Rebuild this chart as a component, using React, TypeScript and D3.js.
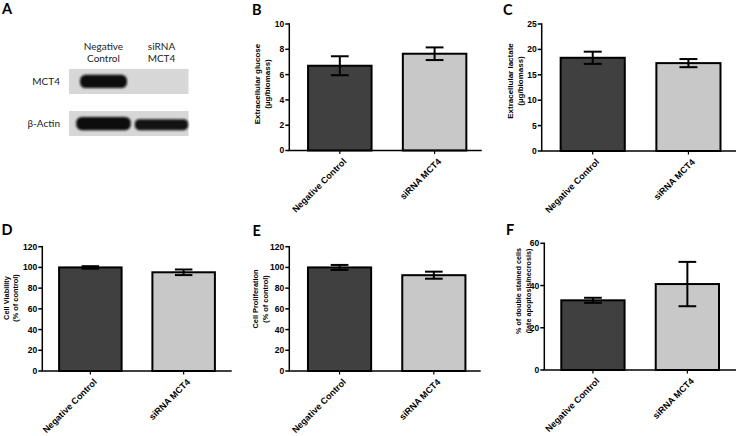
import React from "react";
import * as d3 from "d3";

// ---------- data ----------
const categories = ["Negative Control", "siRNA MCT4"];

const glucoseMean = [6.7, 7.65];
const glucoseErr = [0.75, 0.5];
const glucoseTicks = [0, 2, 4, 6, 8, 10];

const lactateMean = [18.35, 17.3];
const lactateErr = [1.2, 0.8];
const lactateTicks = [0, 5, 10, 15, 20, 25];

const viabilityMean = [100, 95.3];
const viabilityErr = [1.2, 2.7];
const viabilityTicks = [0, 20, 40, 60, 80, 100, 120];

const proliferationMean = [100, 92.5];
const proliferationErr = [2.4, 3.4];
const proliferationTicks = [0, 20, 40, 60, 80, 100, 120];

const apoptosisMean = [33, 40.7];
const apoptosisErr = [1.2, 10.5];
const apoptosisTicks = [0, 20, 40, 60];

// western blot (panel A)
const blotLaneLabels = [["Negative", "Control"], ["siRNA", "MCT4"]];
const blotRows = ["MCT4", "β-Actin"];
const mct4Intensity = [1, 0];
const actinIntensity = [1, 0.97];
const mct4Width = [0.81, 0];
const actinWidth = [0.94, 0.92];
const mct4Thickness = [0.53, 0];
const actinThickness = [0.53, 0.44];

const barFills = ["#404040", "#c8c8c8"];
const TICK_FONT = "'Liberation Sans', Arial, sans-serif";
const LETTER_FONT = "Lato, 'Open Sans', sans-serif";

type PanelCfg = {
  letter: string; lx: number; ly: number;
  x0: number; x1: number; yTop: number; yBot: number; align: number;
  mean: number[]; err: number[]; ticks: number[];
  title: string[]; tx: number[]; ty: number; tfs: number;
};

const panels: PanelCfg[] = [
  { letter: "B", lx: 252, ly: 15, x0: 289.3, x1: 481.7, yTop: 24, yBot: 150.5, align: 0.55,
    mean: glucoseMean, err: glucoseErr, ticks: glucoseTicks,
    title: ["Extracellular glucose", "(µg/biomass)"], tx: [257, 267], ty: 84, tfs: 8 },
  { letter: "C", lx: 503, ly: 15, x0: 541.7, x1: 736, yTop: 24, yBot: 151, align: 0.55,
    mean: lactateMean, err: lactateErr, ticks: lactateTicks,
    title: ["Extracellular lactate", "(µg/biomass)"], tx: [510, 520], ty: 81, tfs: 8 },
  { letter: "D", lx: 1.5, ly: 234.5, x0: 42.3, x1: 231.7, yTop: 246.7, yBot: 371, align: 0.5,
    mean: viabilityMean, err: viabilityErr, ticks: viabilityTicks,
    title: ["Cell Viability", "(% of control)"], tx: [6, 15.5], ty: 298, tfs: 7.4 },
  { letter: "E", lx: 252.5, ly: 235.5, x0: 289.3, x1: 480.7, yTop: 246.7, yBot: 371, align: 0.55,
    mean: proliferationMean, err: proliferationErr, ticks: proliferationTicks,
    title: ["Cell Proliferation", "(% of control)"], tx: [255.5, 265], ty: 299, tfs: 7.4 },
  { letter: "F", lx: 506, ly: 234.5, x0: 544.3, x1: 736, yTop: 243.3, yBot: 370, align: 0.5,
    mean: apoptosisMean, err: apoptosisErr, ticks: apoptosisTicks,
    title: ["% of double stained cells", "(late apoptosis/necrosis)"], tx: [518.5, 528.5], ty: 291, tfs: 7.2 },
];

function BarPanel({ cfg }: { cfg: PanelCfg }) {
  const x = d3.scaleBand<string>().domain(categories).range([cfg.x0, cfg.x1])
    .paddingInner(0.33).paddingOuter(0.18).align(cfg.align);
  const max = cfg.ticks[cfg.ticks.length - 1];
  const y = d3.scaleLinear().domain([0, max]).range([cfg.yBot, cfg.yTop]);
  const bw = x.bandwidth();
  const capW = bw * 0.28;
  return (
    <g>
      <text x={cfg.lx} y={cfg.ly} fontFamily={LETTER_FONT} fontWeight={700} fontSize={14.5}>{cfg.letter}</text>
      {cfg.title.map((t, i) => (
        <text key={i} transform={`translate(${cfg.tx[i]},${cfg.ty}) rotate(-90)`} textAnchor="middle"
          dominantBaseline="central" fontFamily={TICK_FONT} fontWeight={700} fontSize={cfg.tfs}>{t}</text>
      ))}
      {/* bars */}
      {categories.map((c, i) => (
        <rect key={c} x={x(c)} y={y(cfg.mean[i])} width={bw} height={y(0) - y(cfg.mean[i])}
          fill={barFills[i]} stroke="#000" strokeWidth={2} />
      ))}
      {/* error bars */}
      {categories.map((c, i) => {
        const cx = (x(c) as number) + bw / 2;
        const hi = y(cfg.mean[i] + cfg.err[i]);
        const lo = y(cfg.mean[i] - cfg.err[i]);
        return (
          <g key={c} stroke="#000" strokeWidth={2}>
            <line x1={cx} x2={cx} y1={hi} y2={lo} />
            <line x1={cx - capW / 2} x2={cx + capW / 2} y1={hi} y2={hi} />
            <line x1={cx - capW / 2} x2={cx + capW / 2} y1={lo} y2={lo} />
          </g>
        );
      })}
      {/* y axis */}
      <line x1={cfg.x0} x2={cfg.x0} y1={y(max) - 0.75} y2={y(0)} stroke="#000" strokeWidth={1.5} />
      {cfg.ticks.map((t) => (
        <g key={t}>
          <line x1={cfg.x0 - 4} x2={cfg.x0} y1={y(t)} y2={y(t)} stroke="#000" strokeWidth={1.5} />
          <text x={cfg.x0 - 5} y={y(t)} dy="0.35em" textAnchor="end" fontFamily={TICK_FONT}
            fontWeight={700} fontSize={8.5}>{t}</text>
        </g>
      ))}
      {/* x axis */}
      <line x1={cfg.x0 - 0.75} x2={cfg.x1} y1={y(0)} y2={y(0)} stroke="#000" strokeWidth={1.5} />
      {categories.map((c) => {
        const cx = (x(c) as number) + bw / 2;
        return (
          <g key={c}>
            <line x1={cx} x2={cx} y1={y(0)} y2={y(0) + 3.5} stroke="#000" strokeWidth={1.2} />
            <text transform={`translate(${cx + 2.5},${y(0) + 7}) rotate(-45)`} dy="0.72em" textAnchor="end"
              fontFamily={TICK_FONT} fontWeight={700} fontSize={9}>{c}</text>
          </g>
        );
      })}
    </g>
  );
}

function BlotPanel() {
  const lanes = d3.scaleBand<string>().domain(categories).range([74.5, 190.5]);
  const rowY = d3.scaleBand<string>().domain(blotRows).range([69, 136]).paddingInner(0.405);
  const boxX0 = 69, boxX1 = 188.5;
  const rows = [
    { name: blotRows[0], intensity: mct4Intensity, widths: mct4Width, thick: mct4Thickness },
    { name: blotRows[1], intensity: actinIntensity, widths: actinWidth, thick: actinThickness },
  ];
  const lw = lanes.bandwidth();
  return (
    <g>
      <defs>
        <filter id="blur" x="-20%" y="-60%" width="140%" height="220%">
          <feGaussianBlur stdDeviation="0.9" />
        </filter>
      </defs>
      <text x={2} y={13.5} fontFamily={LETTER_FONT} fontWeight={700} fontSize={14.5}>A</text>
      {blotLaneLabels.map((lines, i) => (
        <text key={i} x={(lanes(categories[i]) as number) + lw / 2} y={49.5} textAnchor="middle"
          fontFamily={LETTER_FONT} fontSize={10} fill="#222">
          {lines.map((l, j) => (
            <tspan key={j} x={(lanes(categories[i]) as number) + lw / 2} dy={j === 0 ? 0 : 12.8}>{l}</tspan>
          ))}
        </text>
      ))}
      {rows.map((r) => {
        const ry = rowY(r.name) as number;
        const rh = rowY.bandwidth();
        return (
          <g key={r.name}>
            <rect x={boxX0} y={ry} width={boxX1 - boxX0} height={rh} fill="#d7d7d7" />
            <text x={60} y={ry + rh / 2} dy="0.35em" textAnchor="end" fontFamily={LETTER_FONT}
              fontSize={10} fill="#222">{r.name}</text>
            {categories.map((c, i) => {
              if (r.intensity[i] <= 0) return null;
              const w = lw * r.widths[i];
              const cx = (lanes(c) as number) + lw / 2;
              const bh = rh * r.thick[i];
              const cy = ry + rh / 2 + (rh * 0.53 - bh) / 2;
              return (
                <rect key={c} x={cx - w / 2} y={cy - bh / 2} width={w} height={bh}
                  rx={bh / 2.4} fill="#0a0a0a" opacity={r.intensity[i]} filter="url(#blur)" />
              );
            })}
          </g>
        );
      })}
    </g>
  );
}

export default function App() {
  return (
    <svg width={736} height={436} style={{ position: "fixed", left: 0, top: 0, background: "#fff" }}>
      <rect width={736} height={436} fill="#fff" />
      <BlotPanel />
      {panels.map((p) => <BarPanel key={p.letter} cfg={p} />)}
    </svg>
  );
}
